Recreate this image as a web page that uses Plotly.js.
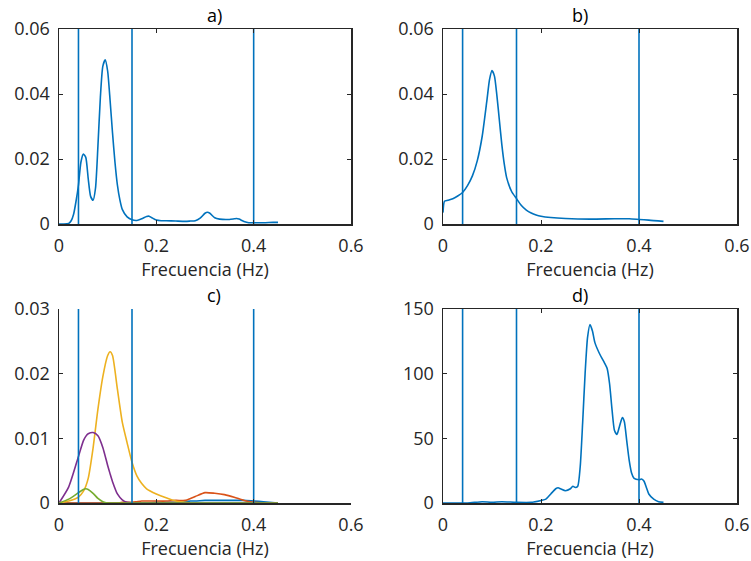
<!DOCTYPE html>
<html><head><meta charset="utf-8">
<script src="https://cdn.plot.ly/plotly-3.0.1.min.js"></script>
<style>html,body{margin:0;padding:0;background:#fff}#plot{width:751px;height:561px}</style>
</head><body><div id="plot"></div>
<script>
// Band edges (Hz)
const bandEdges = [0.04, 0.15, 0.4];
const panelTitles = ['a)', 'b)', 'c)', 'd)'];
const xTitle = 'Frecuencia (Hz)';
const xTicks = [0, 0.2, 0.4, 0.6];

// a) spectrum
const aX = [0,0.01,0.02,0.025,0.03,0.035,0.04,0.045,0.05,0.055,0.06,0.065,0.07,0.075,0.08,0.085,0.09,0.095,0.1,0.105,0.11,0.115,0.12,0.125,0.13,0.14,0.15,0.16,0.17,0.18,0.185,0.19,0.2,0.21,0.22,0.24,0.26,0.27,0.28,0.29,0.3,0.305,0.31,0.32,0.33,0.35,0.36,0.365,0.37,0.38,0.39,0.4,0.42,0.44,0.45];
const aY = [0,0,0.0002,0.001,0.003,0.007,0.012,0.019,0.0215,0.0205,0.014,0.0085,0.0073,0.011,0.024,0.039,0.0485,0.0505,0.047,0.038,0.028,0.019,0.012,0.0075,0.0045,0.0022,0.0013,0.0011,0.0016,0.0023,0.0024,0.002,0.0012,0.001,0.001,0.0009,0.0008,0.0009,0.001,0.0018,0.0033,0.0036,0.0033,0.0019,0.0015,0.0014,0.0016,0.0017,0.0015,0.0008,0.0004,0.0004,0.0004,0.0005,0.0005];

// b) spectrum
const bX = [0,0.003,0.01,0.02,0.03,0.04,0.05,0.06,0.07,0.08,0.09,0.095,0.1,0.105,0.11,0.115,0.12,0.125,0.13,0.14,0.15,0.16,0.17,0.18,0.19,0.2,0.22,0.25,0.3,0.35,0.38,0.4,0.42,0.45];
const bY = [0.0035,0.007,0.0073,0.0078,0.0086,0.0097,0.0118,0.0148,0.0195,0.027,0.0385,0.0445,0.0472,0.0455,0.0395,0.032,0.0245,0.0185,0.0142,0.0100,0.0078,0.0057,0.0043,0.0034,0.0028,0.0024,0.0020,0.0017,0.0015,0.0016,0.0016,0.0014,0.0012,0.0008];

// c) component spectra
const cX = [0,0.02,0.04,0.05,0.055,0.06,0.07,0.08,0.09,0.1,0.105,0.11,0.12,0.13,0.14,0.15,0.16,0.17,0.18,0.2,0.22,0.24,0.26,0.27,0.28,0.3,0.32,0.34,0.36,0.38,0.4,0.42,0.45];
const cBlue   = [0,0,0,0,0,0,0,0,0,0,0,0,0,0,0,0,0,0,0,0.0001,0.0001,0.0001,0.0002,0.0003,0.0003,0.0004,0.0004,0.0004,0.0004,0.0004,0.0003,0.0002,0];
const cOrange = [0,0,0,0,0,0,0,0,0,0,0,0,0,0.0001,0.0001,0.0001,0.0002,0.0003,0.0003,0.0003,0.0003,0.0004,0.0004,0.0007,0.001,0.0016,0.0015,0.0013,0.0009,0.0004,0.0001,0,0];
const cYellow = [0,0.0003,0.0009,0.0018,0.0026,0.0038,0.0085,0.0145,0.0195,0.0228,0.0234,0.0228,0.0176,0.0125,0.0093,0.0063,0.0042,0.0030,0.0022,0.0014,0.0008,0.0003,0.0001,0,0,0,0,0,0,0,0,0,0];
const cPurple = [0,0.0025,0.0072,0.0096,0.0103,0.0107,0.0109,0.0104,0.0086,0.0058,0.0045,0.0033,0.0014,0.0005,0.0001,0,0,0,0,0,0,0,0,0,0,0,0,0,0,0,0,0,0];
const cGreen  = [0,0.0006,0.0016,0.0021,0.0022,0.0021,0.0015,0.0007,0.0002,0,0,0,0,0,0,0,0,0,0,0,0,0,0,0,0,0,0,0,0,0,0,0,0];

// d) spectrum
const dX = [0,0.05,0.08,0.1,0.12,0.15,0.18,0.2,0.21,0.22,0.23,0.235,0.24,0.25,0.26,0.265,0.27,0.275,0.28,0.285,0.29,0.295,0.3,0.305,0.31,0.32,0.33,0.335,0.34,0.345,0.35,0.355,0.36,0.366,0.37,0.375,0.38,0.385,0.39,0.4,0.405,0.41,0.415,0.42,0.43,0.44,0.45];
const dY = [0,0,1,0.5,1,0.5,0.5,2,3,7,11,11.8,11,9.5,11,13,12,13,28,62,100,128,138,133,124,115,108,104,92,72,56,53,59,66,63,48,33,23,19,18,18.5,17,12,7,3,1,0.5];

const blue='#0072BD', orange='#D95319', yellow='#EDB120', purple='#7E2F8E', green='#77AC30';
const ink='#262626';
const FONT = '"Open Sans", "DejaVu Sans", sans-serif';
const FS = 18;

function line(x,y,color,xa,ya,w){
  return {x:x,y:y,type:'scatter',mode:'lines',line:{color:color,width:w||1.6,shape:'spline',smoothing:0.6},xaxis:xa,yaxis:ya,hoverinfo:'skip'};
}
const yMax = [0.06,0.06,0.03,150];
const axesIds = [['x','y'],['x2','y2'],['x3','y3'],['x4','y4']];
const traces = [];
traces.push(line(aX,aY,blue,'x','y'));
traces.push(line(bX,bY,blue,'x2','y2'));
traces.push(line(cX,cBlue,blue,'x3','y3'));
traces.push(line(cX,cOrange,orange,'x3','y3'));
traces.push(line(cX,cYellow,yellow,'x3','y3'));
traces.push(line(cX,cPurple,purple,'x3','y3'));
traces.push(line(cX,cGreen,green,'x3','y3'));
traces.push(line(dX,dY,blue,'x4','y4'));
axesIds.forEach((ax,i)=>{
  bandEdges.forEach(e=>{
    traces.push({x:[e,e],y:[0,yMax[i]],type:'scatter',mode:'lines',line:{color:blue,width:1.6},xaxis:ax[0],yaxis:ax[1],hoverinfo:'skip'});
  });
});

const xDom = [[59/751,351/751],[443/751,737/751]];
const yDom = [[1-224/561,1-29/561],[1-503/561,1-309/561]];
function xaxis(i,anchor,box){
  return {domain:xDom[i%2],anchor:anchor,range:[0,0.6],tickvals:xTicks,ticktext:['0','0.2','0.4','0.6'],
    ticks:'inside',ticklen:4,tickcolor:ink,showline:true,linecolor:ink,linewidth:1.5,mirror:box?'ticks':false,
    showgrid:false,zeroline:false,tickfont:{family:FONT,size:FS,color:ink},ticklabelstandoff:5,
    title:{text:xTitle,font:{family:FONT,size:FS,color:ink},standoff:0}};
}
function yaxis(i,anchor,box,vals,txt){
  return {domain:yDom[Math.floor(i/2)],anchor:anchor,range:[0,yMax[i]],tickvals:vals,ticktext:txt,
    ticks:'inside',ticklen:4,tickcolor:ink,showline:true,linecolor:ink,linewidth:1.5,mirror:box?'ticks':false,
    showgrid:false,zeroline:false,tickfont:{family:FONT,size:FS,color:ink},ticklabelstandoff:4};
}
const layout = {
  width:751,height:561,margin:{l:0,r:0,t:0,b:0},paper_bgcolor:'#fff',plot_bgcolor:'#fff',showlegend:false,
  xaxis:xaxis(0,'y',true), yaxis:yaxis(0,'x',true,[0,0.02,0.04,0.06],['0','0.02','0.04','0.06']),
  xaxis2:xaxis(1,'y2',true), yaxis2:yaxis(1,'x2',true,[0,0.02,0.04,0.06],['0','0.02','0.04','0.06']),
  xaxis3:xaxis(2,'y3',false), yaxis3:yaxis(2,'x3',false,[0,0.01,0.02,0.03],['0','0.01','0.02','0.03']),
  xaxis4:xaxis(3,'y4',true), yaxis4:yaxis(3,'x4',true,[0,50,100,150],['0','50','100','150']),
  annotations: panelTitles.map((t,i)=>({text:t,xref:'paper',yref:'paper',
    x:(xDom[i%2][0]+xDom[i%2][1])/2, y:yDom[Math.floor(i/2)][1], yanchor:'bottom', yshift:0,
    showarrow:false,font:{family:FONT,size:FS,color:'#000'}}))
};
Plotly.newPlot('plot',traces,layout,{staticPlot:true,displayModeBar:false});
</script></body></html>
